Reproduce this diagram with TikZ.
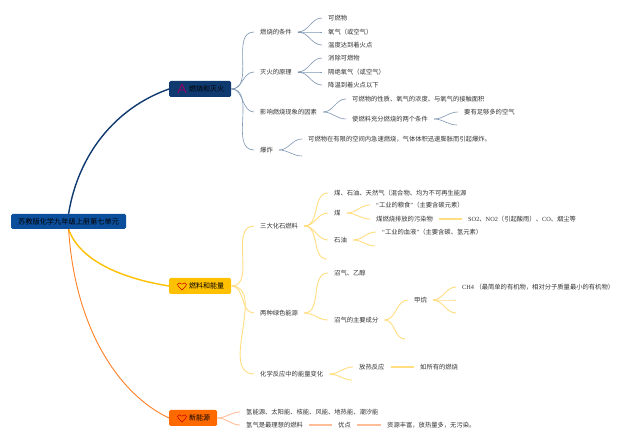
\documentclass[tikz,border=0pt]{standalone}
\usepackage{fontspec}
\setmainfont{Noto Sans CJK SC}
\newfontfamily\latinserif{Liberation Serif}
\definecolor{rootblue}{HTML}{0B4F9C}
\definecolor{navy}{HTML}{0F3A70}
\definecolor{amber}{HTML}{FFC000}
\definecolor{flame}{HTML}{FF6A00}
\definecolor{linkblue}{HTML}{7F97B5}
\definecolor{linkyellow}{HTML}{FFDD80}
\definecolor{linkorange}{HTML}{FFBE98}
\definecolor{ink}{HTML}{333333}
\tikzset{
  leaf/.style={anchor=west,inner xsep=6pt,inner ysep=1pt,text=ink,font=\fontsize{6.3}{7}\selectfont},
  mainbox/.style={anchor=west,rounded corners=1.5pt,inner xsep=7pt,inner ysep=0pt,minimum height=16pt,text=black,font=\fontsize{7}{8}\selectfont},
  blink/.style={linkblue,line width=0.6pt},
  ylink/.style={linkyellow,line width=0.9pt},
  olink/.style={linkorange,line width=0.9pt},
  ybar/.style={draw=linkyellow,line width=1.4pt},
  obar/.style={draw=linkorange,line width=1.4pt},
  sbend/.style={out=0,in=180},
  heart/.style={draw=red!80!black,line width=0.5pt,fill=none}
}
\newcommand{\heartat}[2]{%
  \draw[heart] (#1,#2+4) .. controls (#1-2.5,#2+1.5) and (#1-4.5,#2) .. (#1-4.5,#2-1.5)
    .. controls (#1-4.5,#2-3.5) and (#1-1.5,#2-3.8) .. (#1,#2-1.8)
    .. controls (#1+1.5,#2-3.8) and (#1+4.5,#2-3.5) .. (#1+4.5,#2-1.5)
    .. controls (#1+4.5,#2) and (#1+2.5,#2+1.5) .. (#1,#2+4) -- cycle;}
\newcommand{\openq}{{\latinserif “}}
\newcommand{\closeq}{{\latinserif ”}}
\begin{document}
\begin{tikzpicture}[x=1pt,y=-1pt]
\useasboundingbox (0,0) rectangle (640,443);
\fill[white] (0,0) rectangle (640,443);
% main nodes
\node[mainbox,fill=rootblue,minimum height=15pt,font=\fontsize{7.2}{8}\selectfont] (root) at (11,221.5) {苏教版化学九年级上册第七单元};
\node[mainbox,fill=navy] (fire) at (169,89) {\hspace*{13pt}燃烧和灭火};
\node[mainbox,fill=amber] (fuel) at (169,286) {\hspace*{13pt}燃料和能量};
\node[mainbox,fill=flame] (newe) at (169,418) {\hspace*{13pt}新能源};
\draw[navy,line width=1.4pt] (root.north) .. controls (78,155) and (115,108) .. (fire.west);
\draw[amber,line width=1.4pt] (root.south) .. controls (80,262) and (125,279) .. (fuel.west);
\draw[flame!85!white,line width=0.9pt] (root.south) .. controls (75,330) and (120,395) .. (newe.west);
% icons
\draw[purple!80!blue,line width=0.9pt] (182,84) -- (178,93) (182,84) -- (186,93) (178.5,90) -- (185,90);
\heartat{182}{286}
\heartat{182}{418}
% branch 1
\node[leaf] (a1) at (254,32) {燃烧的条件};
\node[leaf] (a2) at (254,72) {灭火的原理};
\node[leaf] (a3) at (254,112) {影响燃烧现象的因素};
\node[leaf] (a4) at (254,150) {爆炸};
\foreach \t in {a1,a2,a3,a4} \draw[blink] (fire.east) to[sbend] (\t.west);
\node[leaf] (a11) at (322,18) {可燃物};
\node[leaf] (a12) at (322,32) {氧气（或空气）};
\node[leaf] (a13) at (322,45) {温度达到着火点};
\foreach \t in {a11,a12,a13} \draw[blink] (a1.east) to[sbend] (\t.west);
\node[leaf] (a21) at (322,58) {消除可燃物};
\node[leaf] (a22) at (322,72) {隔绝氧气（或空气）};
\node[leaf] (a23) at (322,85) {降温到着火点以下};
\foreach \t in {a21,a22,a23} \draw[blink] (a2.east) to[sbend] (\t.west);
\node[leaf] (a31) at (346,99) {可燃物的性质、氧气的浓度、与氧气的接触面积};
\node[leaf] (a32) at (346,119) {使燃料充分燃烧的两个条件};
\foreach \t in {a31,a32} \draw[blink] (a3.east) to[sbend] (\t.west);
\node[leaf] (a321) at (458,112) {要有足够多的空气};
\coordinate (a322) at (457,125);
\draw[blink] (a32.east) to[sbend] (a321.west);
\draw[blink] (a32.east) to[sbend] (a322);
\node[leaf] (a41) at (302,139) {可燃物在有限的空间内急速燃烧，气体体积迅速膨胀而引起爆炸。};
\coordinate (a42) at (302,156);
\draw[blink] (a4.east) to[sbend] (a41.west);
\draw[blink] (a4.east) to[sbend] (a42);
% branch 2
\node[leaf] (b1) at (254,226) {三大化石燃料};
\node[leaf] (b2) at (254,313) {两种绿色能源};
\node[leaf] (b3) at (254,374) {化学反应中的能量变化};
\foreach \t in {b1,b2,b3} \draw[ylink] (fuel.east) to[sbend] (\t.west);
\node[leaf] (b11) at (328,193) {煤、石油、天然气（混合物、均为不可再生能源};
\node[leaf] (b12) at (328,213) {煤};
\node[leaf] (b13) at (328,240) {石油};
\coordinate (b14) at (327,259);
\foreach \t in {b11,b12,b13,b14} \draw[ylink] (b1.east) to[sbend] (\t);
\node[leaf] (b121) at (370,205) {\openq 工业的粮食\closeq （主要含碳元素）};
\node[leaf] (b122) at (370,219) {煤燃烧排放的污染物};
\foreach \t in {b121,b122} \draw[ylink] (b12.east) to[sbend] (\t.west);
\node[leaf] (b1221) at (462,219) {{\latinserif SO2}、{\latinserif NO2}（引起酸雨）、{\latinserif CO}、烟尘等};
\draw[ybar] (b122.east) -- (b1221.west);
\node[leaf] (b131) at (376,232) {\openq 工业的血液\closeq （主要含碳、氢元素）};
\coordinate (b132) at (375,246);
\draw[ylink] (b13.east) to[sbend] (b131.west);
\draw[ylink] (b13.east) to[sbend] (b132);
\node[leaf] (b21) at (328,273) {沼气、乙醇};
\node[leaf] (b22) at (328,320) {沼气的主要成分};
\foreach \t in {b21,b22} \draw[ylink] (b2.east) to[sbend] (\t.west);
\node[leaf] (b221) at (408,300) {甲烷};
\coordinate (b222) at (405,339);
\draw[ylink] (b22.east) to[sbend] (b221.west);
\draw[ylink] (b22.east) to[sbend] (b222);
\node[leaf] (b2211) at (456,287) {{\latinserif CH4} （最简单的有机物，相对分子质量最小的有机物）};
\coordinate (b2212) at (456,300);
\coordinate (b2213) at (456,313);
\draw[ylink] (b221.east) to[sbend] (b2211.west);
\draw[ylink] (b221.east) to[sbend] (b2212);
\draw[ylink] (b221.east) to[sbend] (b2213);
\node[leaf] (b31) at (353,367) {放热反应};
\coordinate (b32) at (352,380);
\draw[ylink] (b3.east) to[sbend] (b31.west);
\draw[ylink] (b3.east) to[sbend] (b32);
\node[leaf] (b311) at (414,367) {如所有的燃烧};
\draw[ybar] (b31.east) -- (b311.west);
% branch 3
\node[leaf] (c1) at (240,412) {氢能源、太阳能、核能、风能、地热能、潮汐能};
\node[leaf] (c2) at (240,425) {氢气是最理想的燃料};
\foreach \t in {c1,c2} \draw[olink] (newe.east) to[sbend] (\t.west);
\node[leaf] (c21) at (332,425) {优点};
\draw[obar] (c2.east) -- (c21.west);
\node[leaf] (c211) at (381,425) {资源丰富，放热量多，无污染。};
\draw[obar] (c21.east) -- (c211.west);
\end{tikzpicture}
\end{document}
